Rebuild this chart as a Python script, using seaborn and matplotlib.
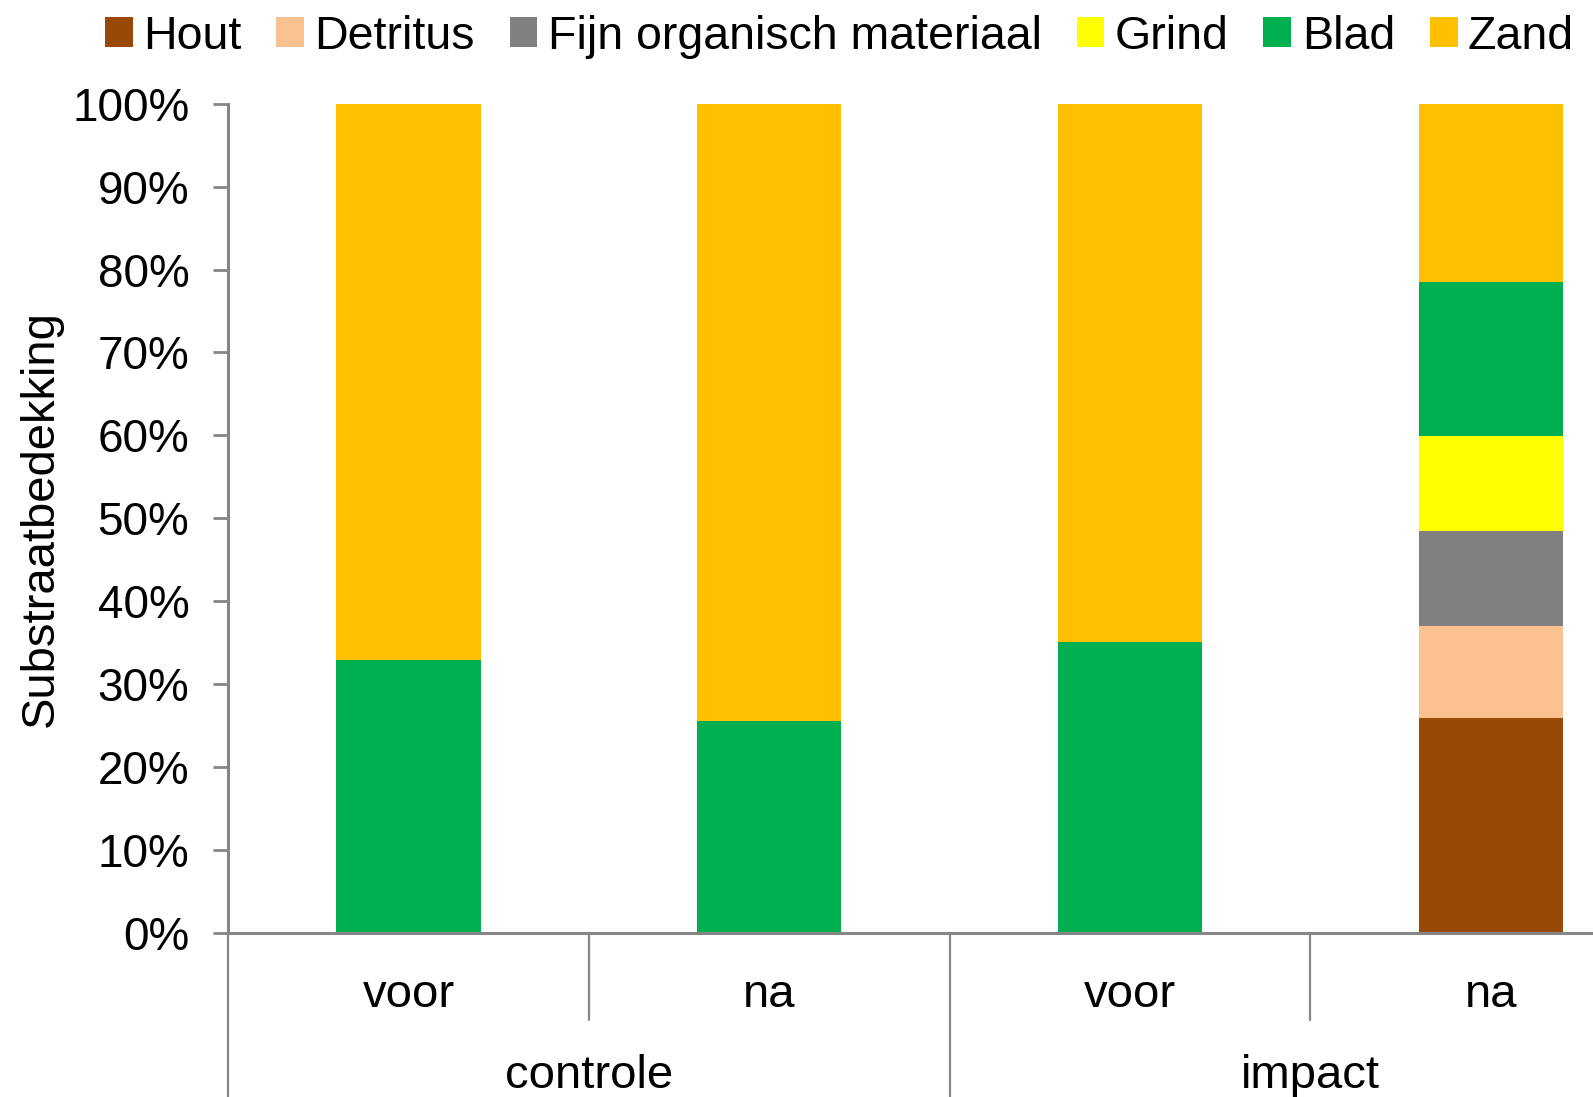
import numpy as np
import pandas as pd
import matplotlib
matplotlib.use("Agg")
import matplotlib.pyplot as plt
import seaborn as sns

# data (percent cover per substrate)
groups = ["controle", "impact"]
periods = ["voor", "na", "voor", "na"]
substrates = ["Hout", "Detritus", "Fijn organisch materiaal", "Grind", "Blad", "Zand"]
hout = [0, 0, 0, 26.0]
detritus = [0, 0, 0, 11.0]
fijn_org = [0, 0, 0, 11.5]
grind = [0, 0, 0, 11.4]
blad = [33.0, 25.6, 35.1, 18.6]
zand = [67.0, 74.4, 64.9, 21.5]
colors = ["#984807", "#FAC090", "#808080", "#FFFF00", "#00B050", "#FFC000"]

sns.set_style("white")
plt.rcParams["font.family"] = ["Liberation Sans", "DejaVu Sans"]
plt.rcParams["text.color"] = "black"
plt.rcParams["axes.labelcolor"] = "black"
plt.rcParams["ytick.labelcolor"] = "black"

df = pd.DataFrame({
    "bar": np.arange(4),
    "Hout": hout,
    "Detritus": detritus,
    "Fijn organisch materiaal": fijn_org,
    "Grind": grind,
    "Blad": blad,
    "Zand": zand,
})

fig = plt.figure(figsize=(15.93, 10.97), dpi=100)
ax = fig.add_axes([0.1433, 0.1492, 0.9057, 0.7564])

bottom = np.zeros(len(df))
for name, col in zip(substrates, colors):
    sns.barplot(x=df["bar"], y=df[name], bottom=bottom, color=col,
                width=0.4, ax=ax, label=name, linewidth=0, saturation=1)
    bottom = bottom + df[name].to_numpy()

axis_col = "#868686"
ax.set_xlim(-0.5, 3.5)
ax.set_ylim(0, 100)
ax.set_yticks(np.arange(0, 101, 10))
ax.set_yticklabels([f"{v}%" for v in range(0, 101, 10)], fontsize=33)
ax.tick_params(axis="y", length=11, width=2, color=axis_col, pad=17, left=True,
               labelcolor="black")
ax.set_xticks([])
ax.set_xlabel("")
ax.set_ylabel("Substraatbedekking", fontsize=34, color="black")
ax.yaxis.set_label_coords(-0.1144, 0.5)

for s in ["top", "right"]:
    ax.spines[s].set_visible(False)
for s in ["left", "bottom"]:
    ax.spines[s].set_color(axis_col)
    ax.spines[s].set_linewidth(2.2)

# two-level category axis
trans = ax.get_xaxis_transform()
for i, p in enumerate(periods):
    ax.text(i, -0.074, p, transform=trans, ha="center", va="center", fontsize=34)
for j, g in enumerate(groups):
    ax.text(2 * j + 0.5, -0.172, g, transform=trans, ha="center", va="center", fontsize=34)
for x in [0.5, 2.5]:
    ax.plot([x, x], [0, -0.104], transform=trans, color=axis_col, lw=1.6, clip_on=False)
for x in [-0.5, 1.5, 3.5]:
    ax.plot([x, x], [0, -0.3], transform=trans, color=axis_col, lw=1.6, clip_on=False)

if ax.get_legend():
    ax.get_legend().remove()
handles, labels = ax.get_legend_handles_labels()
fig.legend(handles, labels, loc="center left", bbox_to_anchor=(0.0657, 0.9667),
           ncol=6, frameon=False, fontsize=33.5, borderpad=0, borderaxespad=0,
           handlelength=0.6, handleheight=0.6, handletextpad=0.22,
           columnspacing=0.75)

fig.savefig("out.png", dpi=100)
